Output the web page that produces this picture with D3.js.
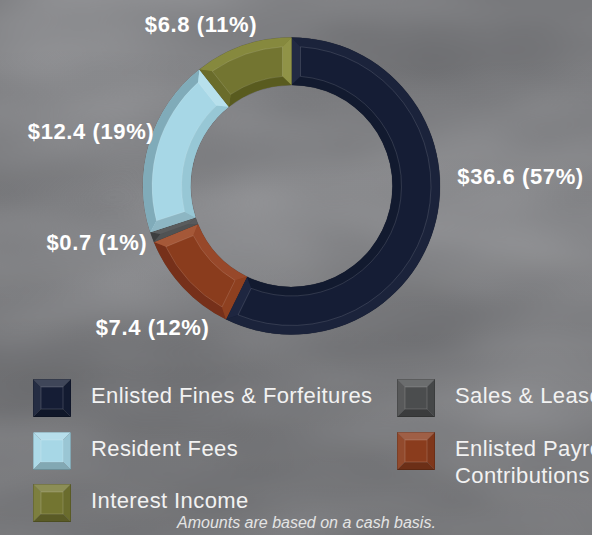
<!DOCTYPE html>
<html>
<head>
<meta charset="utf-8">
<script src="https://cdn.jsdelivr.net/npm/d3@7"></script>
<style>
  html, body { margin: 0; padding: 0; background: #7e7f83; overflow: hidden; }
  svg { display: block; }
</style>
</head>
<body>
<div id="chart"></div>
<script>
// revenue by source, $ millions
const categories = ['Enlisted Fines & Forfeitures', 'Enlisted Payroll Contributions', 'Sales & Leases', 'Resident Fees', 'Interest Income'];
const amounts = [36.6, 7.4, 0.7, 12.4, 6.8];
const percents = [57, 12, 1, 19, 11];
const legendOrder = ['Enlisted Fines & Forfeitures', 'Resident Fees', 'Interest Income', 'Sales & Leases', 'Enlisted Payroll Contributions'];
const legendLines = {
    'Enlisted Payroll Contributions': ['Enlisted Payroll', 'Contributions']
};
const footnote = 'Amounts are based on a cash basis.';

// bevel shades: face, outer rim, inner rim, start side, end side
const styles = {
    'Enlisted Fines & Forfeitures': ['#151d35', '#1b233b', '#121a2f', '#222a43', '#1e2640'],
    'Enlisted Payroll Contributions': ['#8a3c1d', '#76301a', '#97482a', '#8e4020', '#a55838'],
    'Sales & Leases': ['#4b4d4e', '#3d3f40', '#58595b', '#505253', '#5a5c5d'],
    'Resident Fees': ['#a7d7e6', '#80abb9', '#97c7d5', '#8db6c3', '#b7e0ec'],
    'Interest Income': ['#737531', '#86893e', '#595b1f', '#6a6c2b', '#909347']
};

const width = 592, height = 535;
const cx = 291.5, cy = 186, rOut = 148.5, rIn = 101, bev = 9;
const font = '"Liberation Sans", Arial, Helvetica, sans-serif';

const svg = d3.select('#chart').append('svg')
    .attr('width', width)
    .attr('height', height);

// cloudy grey backdrop
const defs = svg.append('defs');
const tex = defs.append('filter').attr('id', 'tex')
    .attr('x', 0).attr('y', 0).attr('width', '100%').attr('height', '100%')
    .attr('color-interpolation-filters', 'sRGB');
tex.append('feTurbulence')
    .attr('type', 'fractalNoise')
    .attr('baseFrequency', '0.003 0.007')
    .attr('numOctaves', 3)
    .attr('seed', 11);
tex.append('feColorMatrix')
    .attr('type', 'matrix')
    .attr('values', '0.2 0 0 0 0.405  0.2 0 0 0 0.408  0.2 0 0 0 0.42  0 0 0 0 1');

const shade = defs.append('linearGradient').attr('id', 'shade')
    .attr('x1', 0).attr('y1', 0).attr('x2', 0).attr('y2', 1);
shade.append('stop').attr('offset', '0%').attr('stop-color', '#000').attr('stop-opacity', 0);
shade.append('stop').attr('offset', '55%').attr('stop-color', '#000').attr('stop-opacity', 0.02);
shade.append('stop').attr('offset', '100%').attr('stop-color', '#000').attr('stop-opacity', 0.08);

svg.append('rect').attr('width', width).attr('height', height).attr('filter', 'url(#tex)');
svg.append('rect').attr('width', width).attr('height', height).attr('fill', 'url(#shade)');

// donut
const pie = d3.pie().sort(null).value(d => d.value);
const data = categories.map((c, i) => ({ name: c, value: amounts[i], pct: percents[i] }));
const arcs = pie(data);

const pt = (r, a) => [cx + r * Math.sin(a), cy - r * Math.cos(a)];

function inset(r, a0, a1) {
    return Math.min(Math.asin(Math.min(1, bev / r)), (a1 - a0) / 2);
}

// band between two radii, each end trimmed by its own angular inset
function band(r1, i1, r2, i2, a0, a1) {
    const p = d3.path();
    const s = pt(r1, a0 + i1);
    p.moveTo(s[0], s[1]);
    p.arc(cx, cy, r1, a0 + i1 - Math.PI / 2, a1 - i1 - Math.PI / 2, false);
    const e = pt(r2, a1 - i2);
    p.lineTo(e[0], e[1]);
    p.arc(cx, cy, r2, a1 - i2 - Math.PI / 2, a0 + i2 - Math.PI / 2, true);
    p.closePath();
    return p.toString();
}

function side(a, dir, a0, a1) {
    const o = pt(rOut, a), n = pt(rIn, a);
    const ni = pt(rIn + bev, a + dir * inset(rIn + bev, a0, a1));
    const oi = pt(rOut - bev, a + dir * inset(rOut - bev, a0, a1));
    return `M${o}L${n}L${ni}L${oi}Z`;
}

const ring = svg.append('g');
const seg = ring.selectAll('g.seg')
    .data(arcs)
    .enter().append('g')
    .attr('class', 'seg');

seg.append('path')
    .attr('d', d => band(rOut, 0, rIn, 0, d.startAngle, d.endAngle))
    .attr('fill', d => styles[d.data.name][0])
    .attr('stroke', 'rgba(0,0,0,0.25)')
    .attr('stroke-width', 0.6);

seg.append('path')
    .attr('d', d => {
        const ri = rOut - bev;
        return band(rOut, 0, ri, inset(ri, d.startAngle, d.endAngle), d.startAngle, d.endAngle);
    })
    .attr('fill', d => styles[d.data.name][1]);

seg.append('path')
    .attr('d', d => {
        const ri = rIn + bev;
        return band(ri, inset(ri, d.startAngle, d.endAngle), rIn, 0, d.startAngle, d.endAngle);
    })
    .attr('fill', d => styles[d.data.name][2]);

seg.append('path')
    .attr('d', d => side(d.startAngle, 1, d.startAngle, d.endAngle))
    .attr('fill', d => styles[d.data.name][3]);

seg.append('path')
    .attr('d', d => side(d.endAngle, -1, d.startAngle, d.endAngle))
    .attr('fill', d => styles[d.data.name][4]);

// faint highlight along the face edge
seg.filter(d => d.endAngle - d.startAngle > 0.2)
    .append('path')
    .attr('d', d => {
        const ro = rOut - bev, ri = rIn + bev;
        return band(ro, inset(ro, d.startAngle, d.endAngle), ri, inset(ri, d.startAngle, d.endAngle), d.startAngle, d.endAngle);
    })
    .attr('fill', 'none')
    .attr('stroke', 'rgba(255,255,255,0.16)')
    .attr('stroke-width', 0.8);

// value labels, placed just outside the ring then nudged like the original
const labelR = rOut + 11.5;
const nudge = {
    'Enlisted Fines & Forfeitures': [10, -45],
    'Enlisted Payroll Contributions': [35, 33],
    'Sales & Leases': [6, 2],
    'Resident Fees': [16, -8],
    'Interest Income': [-38, -10]
};
const fmt = d3.format('.1f');

svg.append('g').selectAll('text')
    .data(arcs)
    .enter().append('text')
    .each(function (d) {
        const a = (d.startAngle + d.endAngle) / 2;
        const p = pt(labelR, a);
        const s = Math.sin(a);
        const n = nudge[d.data.name];
        d3.select(this)
            .attr('x', p[0] + n[0])
            .attr('y', p[1] + 7 + n[1])
            .attr('text-anchor', s > 0.5 ? 'start' : (s < -0.5 ? 'end' : 'middle'));
    })
    .text(d => `$${fmt(d.data.value)} (${d.data.pct}%)`)
    .style('font-family', font)
    .style('font-weight', 'bold')
    .style('font-size', '22px')
    .style('letter-spacing', '0.6px')
    .style('fill', '#fff');

// legend
const colX = [33, 397];
const rowY = [379, 432, 484];
const sq = 38, sb = 8;

const legend = svg.append('g').selectAll('g')
    .data(legendOrder)
    .enter().append('g')
    .attr('transform', (d, i) => `translate(${colX[Math.floor(i / 3)]},${rowY[i % 3]})`);

const mix = (c, t, k) => d3.interpolateRgb(c, t)(k);

legend.each(function (name) {
    const g = d3.select(this);
    const face = styles[name][0];
    const faces = [
        [`M0,0L${sq},0L${sq - sb},${sb}L${sb},${sb}Z`, mix(face, '#fff', 0.18)],
        [`M0,0L${sb},${sb}L${sb},${sq - sb}L0,${sq}Z`, mix(face, '#fff', 0.07)],
        [`M${sq},0L${sq},${sq}L${sq - sb},${sq - sb}L${sq - sb},${sb}Z`, mix(face, '#000', 0.08)],
        [`M0,${sq}L${sb},${sq - sb}L${sq - sb},${sq - sb}L${sq},${sq}Z`, mix(face, '#000', 0.22)]
    ];
    faces.forEach(f => g.append('path').attr('d', f[0]).attr('fill', f[1]));
    g.append('rect')
        .attr('x', sb).attr('y', sb)
        .attr('width', sq - 2 * sb).attr('height', sq - 2 * sb)
        .attr('fill', face)
        .attr('stroke', 'rgba(255,255,255,0.2)')
        .attr('stroke-width', 0.8);
    g.append('rect')
        .attr('x', 0.3).attr('y', 0.3)
        .attr('width', sq - 0.6).attr('height', sq - 0.6)
        .attr('fill', 'none')
        .attr('stroke', 'rgba(0,0,0,0.25)')
        .attr('stroke-width', 0.6);

    const lines = legendLines[name] || [name];
    const t = g.append('text')
        .attr('x', sq + 20)
        .attr('y', 24)
        .style('font-family', font)
        .style('font-size', '22px')
        .style('letter-spacing', '0.4px')
        .style('fill', '#f2f2f2');
    lines.forEach((l, i) => t.append('tspan').attr('x', sq + 20).attr('dy', i ? 27 : 0).text(l));
});

svg.append('text')
    .attr('x', 177)
    .attr('y', 528)
    .text(footnote)
    .style('font-family', font)
    .style('font-style', 'italic')
    .style('font-size', '16px')
    .style('fill', '#e4e4e4');
</script>
</body>
</html>
